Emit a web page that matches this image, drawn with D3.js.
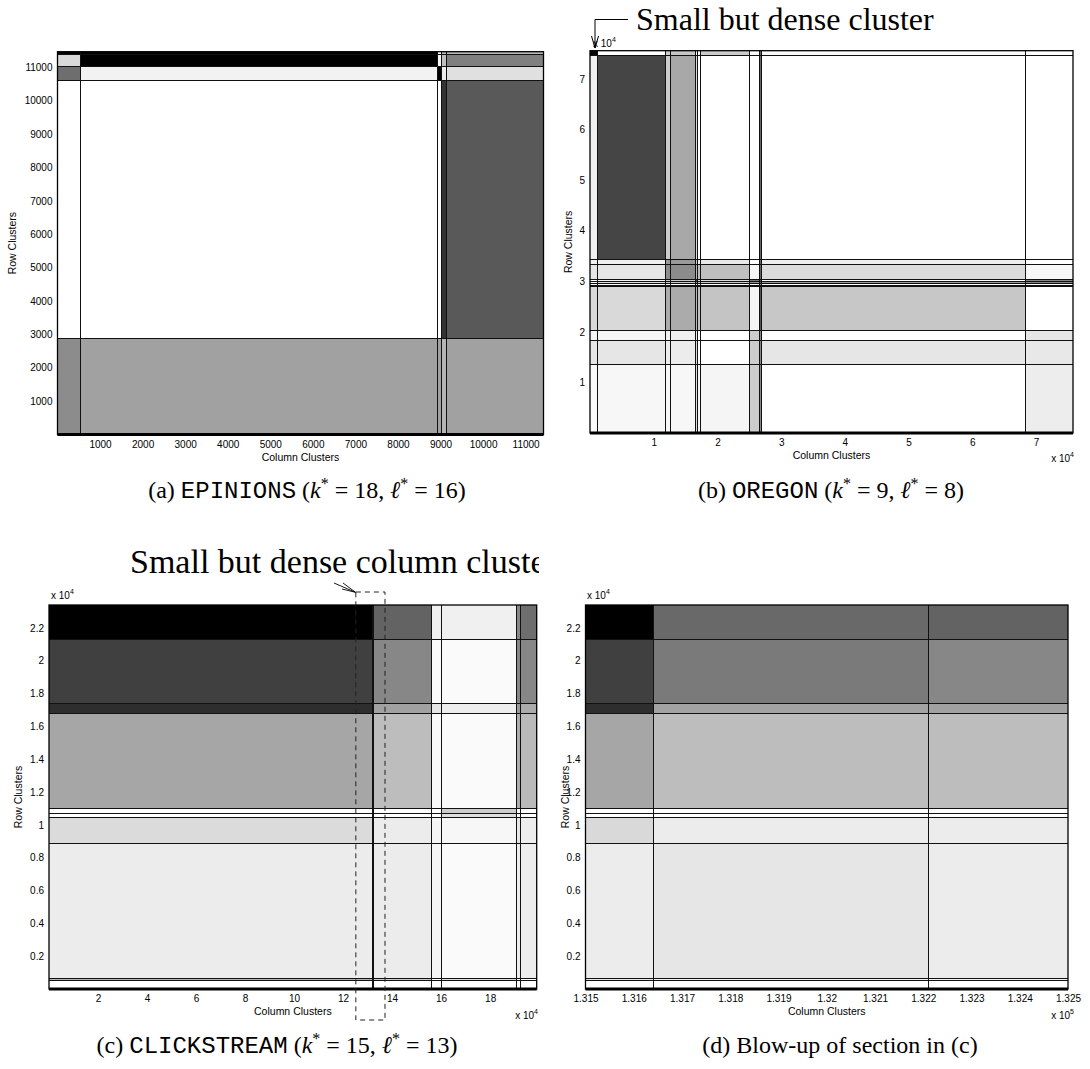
<!DOCTYPE html>
<meta charset="utf-8">
<script src="https://d3js.org/d3.v7.min.js"></script>
<style>
  body { margin: 0; background: #fff; }
  text { font-family: "Liberation Sans", Arial, sans-serif; fill: #000; }
</style>
<div id="chart"></div>

<script>

// ---- (a) EPINIONS : block edges (node index) and block density (0 = white, 1 = black)
var aColEdges = [0, 530, 8915, 9010, 9130, 11420];
var aRowEdges = [11470, 11400, 11040, 10620, 2890, 0];   // top -> bottom
var aDensity = [
  [1.00, 1.00, 0.00, 0.27, 0.27],
  [0.15, 1.00, 0.03, 0.25, 0.50],
  [0.57, 0.05, 1.00, 0.07, 0.12],
  [0.00, 0.00, 0.00, 0.80, 0.65],
  [0.45, 0.37, 0.37, 0.29, 0.37]
];
var aTicks = [1000, 2000, 3000, 4000, 5000, 6000, 7000, 8000, 9000, 10000, 11000];

// ---- (b) OREGON (x 10^4)
var bColEdges = [0, 0.115, 1.18, 1.26, 1.65, 1.68, 1.73, 2.50, 2.65, 2.68, 6.83, 7.58];
var bRowEdges = [7.56, 7.48, 3.44, 3.34, 3.05, 3.00, 2.96, 2.93, 2.90, 2.03, 1.84, 1.36, 0];
var bDensity = [
  [1.00, 0.00, 0.20, 0.22, 0.00, 0.00, 0.20, 0.00, 0.60, 0.02, 0.00],
  [0.06, 0.73, 0.20, 0.34, 0.13, 0.00, 0.00, 0.00, 0.60, 0.00, 0.00],
  [0.06, 0.06, 0.40, 0.40, 0.20, 0.07, 0.09, 0.00, 0.60, 0.07, 0.00],
  [0.10, 0.10, 0.45, 0.45, 0.27, 0.25, 0.25, 0.03, 0.60, 0.14, 0.03],
  [0.00, 0.04, 0.20, 0.20, 0.67, 0.13, 0.13, 0.53, 0.67, 0.00, 0.47],
  [0.00, 0.13, 0.20, 0.20, 0.40, 0.20, 0.20, 0.40, 0.60, 0.40, 0.47],
  [0.00, 0.00, 0.00, 0.00, 0.00, 0.00, 0.00, 0.00, 0.40, 0.00, 0.00],
  [0.00, 0.02, 0.05, 0.05, 0.20, 0.05, 0.05, 0.10, 0.40, 0.05, 0.05],
  [0.15, 0.15, 0.33, 0.33, 0.27, 0.23, 0.23, 0.04, 0.67, 0.22, 0.00],
  [0.04, 0.04, 0.06, 0.06, 0.07, 0.00, 0.00, 0.20, 0.47, 0.00, 0.10],
  [0.10, 0.10, 0.075, 0.075, 0.13, 0.00, 0.00, 0.20, 0.47, 0.10, 0.09],
  [0.02, 0.03, 0.03, 0.03, 0.13, 0.04, 0.04, 0.20, 0.47, 0.00, 0.07]
];
var bTicks = [1, 2, 3, 4, 5, 6, 7];

// ---- (c) CLICKSTREAM (x 10^4)
var cColEdges = [0, 13.17, 13.24, 15.58, 15.99, 19.05, 19.22, 19.9];
var cRowEdges = [2.34, 2.131, 1.745, 1.68, 1.10, 1.075, 1.05, 0.89, 0.065, 0.052, 0];
var cDensity = [
  [1.00, 0.59, 0.61, 0.06, 0.06, 0.47, 0.57],
  [0.75, 0.52, 0.47, 0.02, 0.02, 0.47, 0.47],
  [0.82, 0.36, 0.37, 0.10, 0.07, 0.40, 0.33],
  [0.35, 0.26, 0.26, 0.02, 0.02, 0.33, 0.27],
  [0.00, 0.00, 0.00, 0.00, 0.20, 0.00, 0.00],
  [0.00, 0.00, 0.00, 0.00, 0.13, 0.00, 0.00],
  [0.14, 0.20, 0.075, 0.04, 0.03, 0.10, 0.07],
  [0.075, 0.075, 0.075, 0.04, 0.02, 0.07, 0.07],
  [0.30, 0.30, 0.20, 0.00, 0.13, 0.00, 0.00],
  [0.00, 0.00, 0.00, 0.00, 0.00, 0.00, 0.00]
];
var cXTicks = [2, 4, 6, 8, 10, 12, 14, 16, 18];
var cYTicks = [0.2, 0.4, 0.6, 0.8, 1, 1.2, 1.4, 1.6, 1.8, 2, 2.2];
var cBlowup = [12.52, 13.71];   // dashed box around the dense column cluster

// ---- (d) blow-up of (c) (x 10^5 columns)
var dColEdges = [1.315, 1.3164, 1.3221, 1.325];
var dRowEdges = cRowEdges;
var dDensity = [
  [1.00, 0.59, 0.61],
  [0.75, 0.52, 0.47],
  [0.82, 0.36, 0.37],
  [0.35, 0.26, 0.26],
  [0.00, 0.00, 0.00],
  [0.00, 0.00, 0.00],
  [0.15, 0.075, 0.075],
  [0.075, 0.10, 0.075],
  [0.10, 0.05, 0.05],
  [0.00, 0.00, 0.00]
];
var dXTicks = [1.315, 1.316, 1.317, 1.318, 1.319, 1.32, 1.321, 1.322, 1.323, 1.324, 1.325];

var svg = d3.select("#chart")
  .append("svg")
    .attr("width", 1090)
    .attr("height", 1069);

var shade = d3.scaleLinear().domain([0, 1]).range(["#ffffff", "#000000"]);
var trim = function(d) { return String(+d.toFixed(3)); };

function drawPanel(p) {
  var x = d3.scaleLinear().domain([p.cols[0], p.cols[p.cols.length - 1]]).range([p.left, p.right]);
  var y = d3.scaleLinear().domain([p.rows[p.rows.length - 1], p.rows[0]]).range([p.bottom, p.top]);
  var g = svg.append("g");

  var cells = [];
  p.density.forEach(function(row, i) {
    row.forEach(function(v, j) {
      cells.push({x0: p.cols[j], x1: p.cols[j + 1], yt: p.rows[i], yb: p.rows[i + 1], v: v});
    });
  });

  g.selectAll(".cell")
    .data(cells)
    .enter()
    .append("rect")
      .attr("x", function(d) { return Math.round(x(d.x0)); })
      .attr("width", function(d) { return Math.round(x(d.x1)) - Math.round(x(d.x0)); })
      .attr("y", function(d) { return Math.round(y(d.yt)); })
      .attr("height", function(d) { return Math.round(y(d.yb)) - Math.round(y(d.yt)); })
      .attr("fill", function(d) { return shade(d.v); })
      .attr("shape-rendering", "crispEdges");

  // cluster boundaries run across the whole matrix
  g.selectAll(".vline")
    .data(p.cols.slice(1, -1))
    .enter()
    .append("line")
      .attr("x1", function(d) { return Math.round(x(d)) + 0.5; })
      .attr("x2", function(d) { return Math.round(x(d)) + 0.5; })
      .attr("y1", p.top).attr("y2", p.bottom)
      .attr("stroke", "#111").attr("stroke-width", 1);
  g.selectAll(".hline")
    .data(p.rows.slice(1, -1))
    .enter()
    .append("line")
      .attr("y1", function(d) { return Math.round(y(d)) + 0.5; })
      .attr("y2", function(d) { return Math.round(y(d)) + 0.5; })
      .attr("x1", p.left).attr("x2", p.right)
      .attr("stroke", "#111").attr("stroke-width", 1);

  // frame
  g.append("rect")
    .attr("x", p.left).attr("y", p.top)
    .attr("width", p.right - p.left).attr("height", p.bottom - p.top)
    .attr("fill", "none").attr("stroke", "#000").attr("stroke-width", 1.3);
  g.append("line")
    .attr("x1", p.left).attr("x2", p.right)
    .attr("y1", p.bottom).attr("y2", p.bottom)
    .attr("stroke", "#000").attr("stroke-width", 2.8);

  // axes
  var xa = g.append("g")
    .attr("transform", "translate(0," + p.bottom + ")")
    .call(d3.axisBottom(x).tickValues(p.xTicks).tickFormat(p.xFmt).tickSize(0).tickPadding(6));
  var ya = g.append("g")
    .attr("transform", "translate(" + p.left + ",0)")
    .call(d3.axisLeft(y).tickValues(p.yTicks).tickFormat(p.yFmt).tickSize(0).tickPadding(5));
  [xa, ya].forEach(function(a) {
    a.select(".domain").remove();
    a.selectAll("text").attr("font-size", 10).attr("font-family", "Liberation Sans, Arial, sans-serif");
  });

  g.append("text")
    .attr("x", (p.left + p.right) / 2).attr("y", p.bottom + 26)
    .attr("text-anchor", "middle").attr("font-size", 10.5)
    .text("Column Clusters");
  g.append("text")
    .attr("transform", "translate(" + p.rowLabelX + "," + (p.top + p.bottom) / 2 + ") rotate(-90)")
    .attr("text-anchor", "middle").attr("font-size", 10.5)
    .text("Row Clusters");

  return {x: x, y: y};
}

function multiplier(xp, yp, exp, anchor) {
  var t = svg.append("text")
    .attr("x", xp).attr("y", yp)
    .attr("font-size", 10)
    .attr("text-anchor", anchor || "start");
  t.append("tspan").text("x 10");
  t.append("tspan").attr("dy", -5).attr("font-size", 7).text(exp);
}

function caption(cx, cy, parts) {
  var t = svg.append("text")
    .attr("x", cx).attr("y", cy)
    .attr("text-anchor", "middle")
    .attr("font-size", 24)
    .style("font-family", "Liberation Serif, Times New Roman, serif");
  parts.forEach(function(pt) {
    var s = t.append("tspan").text(pt[0]);
    if (pt[1] === "mono") s.style("font-family", "Liberation Mono, Courier New, monospace");
    if (pt[1] === "it") s.style("font-style", "italic");
    if (pt[1] === "sup") s.attr("dy", -9).attr("font-size", 16);
    if (pt[1] === "after") s.attr("dy", 9);
  });
}

// (a)
drawPanel({
  cols: aColEdges, rows: aRowEdges, density: aDensity,
  left: 57.5, right: 543.5, top: 51.7, bottom: 434.5,
  xTicks: aTicks, yTicks: aTicks, xFmt: d3.format("d"), yFmt: d3.format("d"),
  rowLabelX: 16
});

// (b)
drawPanel({
  cols: bColEdges, rows: bRowEdges, density: bDensity,
  left: 590, right: 1073, top: 50.7, bottom: 433,
  xTicks: bTicks, yTicks: bTicks, xFmt: trim, yFmt: trim,
  rowLabelX: 572
});
multiplier(593, 47, "4");
multiplier(1074, 462, "4", "end");

// (c)
var pc = drawPanel({
  cols: cColEdges, rows: cRowEdges, density: cDensity,
  left: 49, right: 536.7, top: 605, bottom: 989,
  xTicks: cXTicks, yTicks: cYTicks, xFmt: trim, yFmt: trim,
  rowLabelX: 22
});
multiplier(51, 599, "4");
multiplier(538, 1019, "4", "end");

// (d)
drawPanel({
  cols: dColEdges, rows: dRowEdges, density: dDensity,
  left: 585.5, right: 1068, top: 605, bottom: 989,
  xTicks: dXTicks, yTicks: cYTicks, xFmt: trim, yFmt: trim,
  rowLabelX: 569
});
multiplier(587, 599, "4");
multiplier(1074, 1019, "5", "end");

// dashed box marking the blown-up section
svg.append("rect")
  .attr("x", pc.x(cBlowup[0])).attr("y", 592)
  .attr("width", pc.x(cBlowup[1]) - pc.x(cBlowup[0])).attr("height", 428)
  .attr("fill", "none").attr("stroke", "#222").attr("stroke-width", 1)
  .attr("stroke-dasharray", "5,4");

// annotations
var serif = "Liberation Serif, Times New Roman, serif";
svg.append("text")
  .attr("x", 636).attr("y", 30)
  .attr("font-size", 32).style("font-family", serif)
  .text("Small but dense cluster");
svg.append("path")
  .attr("d", "M628,19.5 H595 V48 M591.5,36 L595,48 L598.5,36")
  .attr("fill", "none").attr("stroke", "#000").attr("stroke-width", 1);

svg.append("clipPath").attr("id", "clipc")
  .append("rect").attr("x", 0).attr("y", 530).attr("width", 539).attr("height", 60);
svg.append("text")
  .attr("x", 130).attr("y", 573)
  .attr("font-size", 34).style("font-family", serif)
  .attr("clip-path", "url(#clipc)")
  .text("Small but dense column cluster");
svg.append("path")
  .attr("d", "M334,583 L355.5,592.3 M343,583 L355.5,592.3 L342,589")
  .attr("fill", "none").attr("stroke", "#000").attr("stroke-width", 0.9);

// captions
caption(307, 498, [["(a) "], ["EPINIONS", "mono"], [" ("], ["k", "it"], ["*", "sup"], [" = 18, ", "after"], ["\u2113", "it"], ["*", "sup"], [" = 16)", "after"]]);
caption(831, 498, [["(b) "], ["OREGON", "mono"], [" ("], ["k", "it"], ["*", "sup"], [" = 9, ", "after"], ["\u2113", "it"], ["*", "sup"], [" = 8)", "after"]]);
caption(277, 1053, [["(c) "], ["CLICKSTREAM", "mono"], [" ("], ["k", "it"], ["*", "sup"], [" = 15, ", "after"], ["\u2113", "it"], ["*", "sup"], [" = 13)", "after"]]);
caption(840, 1053, [["(d) Blow-up of section in (c)"]]);

</script>
